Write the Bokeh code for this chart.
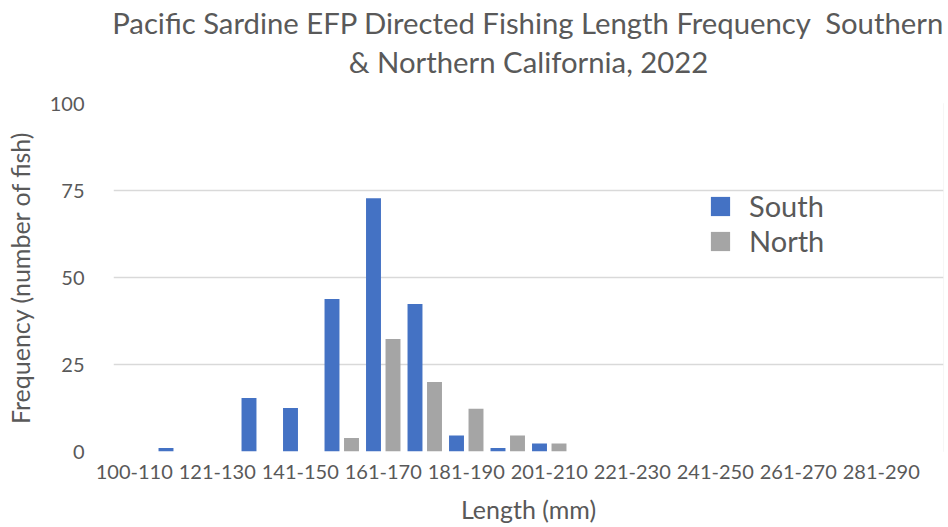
from bokeh.plotting import figure
from bokeh.models import ColumnDataSource, FixedTicker, Legend, LegendItem, Range1d, Title
from bokeh.embed import file_html
from bokeh.resources import INLINE

categories = ["100-110", "111-120", "121-130", "131-140", "141-150", "151-160",
              "161-170", "171-180", "181-190", "191-200", "201-210", "211-220",
              "221-230", "231-240", "241-250", "251-260", "261-270", "271-280",
              "281-290", "291-300"]
south = [0, 1, 0, 15.4, 12.5, 43.8, 72.8, 42.4, 4.6, 1, 2.3, 0, 0, 0, 0, 0, 0, 0, 0, 0]
north = [0, 0, 0, 0, 0, 3.9, 32.3, 20, 12.3, 4.6, 2.3, 0, 0, 0, 0, 0, 0, 0, 0, 0]
y_ticks = [0, 25, 50, 75, 100]
title_lines = ["Pacific Sardine EFP Directed Fishing Length Frequency \u00a0Southern",
               "& Northern California, 2022"]

FONT = "Lato"
GREY = "#595959"

W, H = 948, 527
BL, BR, BT, BB = 113, 5, 103, 76

idx = list(range(len(categories)))
src = ColumnDataSource(dict(s_x=[i - 0.235 for i in idx], n_x=[i + 0.235 for i in idx],
                            south=south, north=north))

p = figure(x_range=Range1d(-0.5, len(categories) - 0.5), y_range=Range1d(0, 100),
           width=W, height=H, output_backend="svg", toolbar_location=None,
           min_border_left=BL, min_border_right=BR, min_border_top=BT, min_border_bottom=BB)
p.styles = {"outline": "1px solid #d9d9d9", "outline-offset": "-5px"}
p.outline_line_color = None
p.background_fill_color = "white"
p.border_fill_color = "white"

r1 = p.vbar(x="s_x", top="south", width=0.36, source=src, fill_color="#4472C4", line_color=None)
r2 = p.vbar(x="n_x", top="north", width=0.36, source=src, fill_color="#A5A5A5", line_color=None)

title_style = dict(align="center", text_font=FONT, text_font_size="29.3px",
                   text_font_style="normal", text_color=GREY)
p.title.text = title_lines[0]
p.title.standoff = 0
for k, v in title_style.items():
    setattr(p.title, k, v)
# blank spacer between the frame and the second title line
p.add_layout(Title(text=" ", text_font_size="10px", standoff=10), "above")
p.add_layout(Title(text=title_lines[1], standoff=4, **title_style), "above")

# Axes
p.xaxis.axis_label = "Length (mm)"
p.yaxis.axis_label = "Frequency (number of fish)"
for ax in (p.xaxis[0], p.yaxis[0]):
    ax.axis_line_color = None
    ax.major_tick_line_color = None
    ax.minor_tick_line_color = None
    ax.major_tick_out = 0
    ax.major_tick_in = 0
    ax.major_label_text_font = FONT
    ax.major_label_text_font_size = "20px"
    ax.major_label_text_color = GREY
    ax.axis_label_text_font = FONT
    ax.axis_label_text_font_size = "25px"
    ax.axis_label_text_font_style = "normal"
    ax.axis_label_text_color = GREY

p.yaxis.ticker = FixedTicker(ticks=y_ticks)
p.yaxis.major_label_standoff = 29
p.yaxis.axis_label_standoff = 12
p.xaxis.ticker = FixedTicker(ticks=idx[::2])
p.xaxis.major_label_overrides = {i: categories[i] for i in idx[::2]}
p.xaxis.major_label_standoff = 13
p.xaxis.axis_label_standoff = 12

p.xgrid.grid_line_color = None
p.ygrid.grid_line_color = "#d9d9d9"
p.ygrid.grid_line_width = 1.5
p.ygrid.ticker = FixedTicker(ticks=y_ticks)

legend = Legend(items=[LegendItem(label="South", renderers=[r1]),
                       LegendItem(label="North", renderers=[r2])],
                location=(595, 193), padding=0, margin=0, spacing=-2,
                glyph_width=24, glyph_height=24, label_height=24, label_standoff=17,
                label_text_font=FONT, label_text_font_size="29px", label_text_color=GREY,
                border_line_color=None, background_fill_alpha=0)
p.add_layout(legend)

open("out.html", "w").write(file_html(p, INLINE))
